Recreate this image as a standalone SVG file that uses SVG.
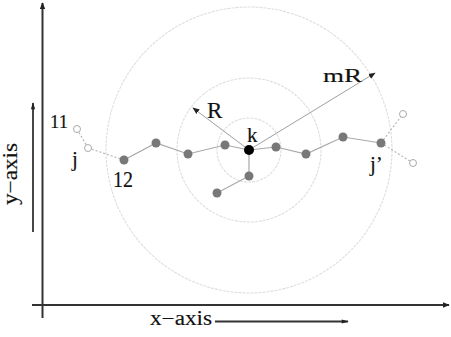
<svg xmlns="http://www.w3.org/2000/svg" width="451" height="337" viewBox="0 0 451 337">
<style>
.ax{stroke:#333;stroke-width:2;fill:none}
.lab{font-family:"Liberation Serif",serif;fill:#111;stroke:#111;stroke-width:0.15}
.ring{fill:none;stroke:#dedede;stroke-width:1.1;stroke-dasharray:3 1}
.ln{stroke:#a8a8a8;stroke-width:1.2;fill:none}
.dl{stroke:#b8b8b8;stroke-width:1.2;fill:none;stroke-dasharray:2 2}
.n{fill:#787878}
.h{fill:#fff;stroke:#aaa;stroke-width:1}
.rad{stroke:#a0a0a0;stroke-width:1;fill:none}
</style>
<defs>
<marker id="ah" viewBox="0 0 10 10" refX="9" refY="5" markerWidth="7" markerHeight="7" orient="auto" markerUnits="userSpaceOnUse">
<path d="M0,1 L10,5 L0,9 z" fill="#222"/>
</marker>
<marker id="ah2" viewBox="0 0 10 10" refX="9" refY="5" markerWidth="9" markerHeight="7" orient="auto" markerUnits="userSpaceOnUse">
<path d="M0,2 L10,5 L0,8 z" fill="#222"/>
</marker>
</defs>
<rect width="451" height="337" fill="#fff"/>
<g id="rings">
<circle class="ring" cx="249" cy="150" r="32"/>
<circle class="ring" cx="249" cy="150" r="72"/>
<circle class="ring" cx="249" cy="150" r="143"/>
</g>
<g id="axes">
<line class="ax" x1="42.5" y1="318" x2="42.5" y2="3" marker-end="url(#ah)"/>
<line class="ax" x1="32" y1="305" x2="449" y2="305" marker-end="url(#ah)"/>
<line x1="33" y1="232" x2="33" y2="103" stroke="#333" stroke-width="1.8" marker-end="url(#ah2)"/>
<line x1="215" y1="321.5" x2="348" y2="321.5" stroke="#333" stroke-width="1.8" marker-end="url(#ah2)"/>
</g>
<g id="connectors">
<line class="dl" x1="77" y1="129" x2="88" y2="148"/>
<line class="dl" x1="88" y1="148" x2="124" y2="160"/>
<polyline class="ln" points="124,160 156,143 188,154 225,145 249,150 276,147 306,154 343,137 381,143"/>
<polyline class="ln" points="249,150 249,176 217,193"/>
<line class="dl" x1="381" y1="143" x2="403" y2="114"/>
<line class="dl" x1="381" y1="143" x2="413" y2="163"/>
<line class="rad" x1="249" y1="150" x2="193" y2="108" marker-end="url(#ah)"/>
<line class="rad" x1="249" y1="150" x2="375" y2="73" marker-end="url(#ah)"/>
</g>
<g id="n11"><circle class="h" cx="77" cy="129" r="3.5"/><text class="lab" x="50" y="128" font-size="19" textLength="18" lengthAdjust="spacingAndGlyphs">11</text></g>
<g id="nj"><circle class="h" cx="88" cy="148" r="3.5"/><text class="lab" x="72" y="166" font-size="21">j</text></g>
<g id="n12"><circle class="n" cx="124" cy="160" r="4.5"/><text class="lab" x="113" y="187" font-size="23" textLength="20" lengthAdjust="spacingAndGlyphs">12</text></g>
<g id="a1"><circle class="n" cx="156" cy="143" r="4.5"/></g>
<g id="a2"><circle class="n" cx="188" cy="154" r="4.5"/></g>
<g id="a3"><circle class="n" cx="225" cy="145" r="4.5"/></g>
<g id="nk"><circle fill="#000" cx="249" cy="150" r="5"/><text class="lab" x="247" y="142" font-size="21">k</text></g>
<g id="a4"><circle class="n" cx="276" cy="147" r="4.5"/></g>
<g id="a5"><circle class="n" cx="306" cy="154" r="4.5"/></g>
<g id="a6"><circle class="n" cx="343" cy="137" r="4.5"/></g>
<g id="njp"><circle class="n" cx="381" cy="143" r="4.5"/><text class="lab" x="370" y="171" font-size="21">j’</text></g>
<g id="h1"><circle class="h" cx="403" cy="114" r="3.5"/></g>
<g id="h2"><circle class="h" cx="413" cy="163" r="3.5"/></g>
<g id="b1"><circle class="n" cx="249" cy="176" r="4.5"/></g>
<g id="b2"><circle class="n" cx="217" cy="193" r="4.5"/></g>
<g id="labels">
<text class="lab" x="207" y="118" font-size="23">R</text>
<text class="lab" x="323" y="82" font-size="18" textLength="39" lengthAdjust="spacingAndGlyphs">mR</text>
<text class="lab" x="150" y="325" font-size="20" textLength="62" lengthAdjust="spacingAndGlyphs">x−axis</text>
<text class="lab" transform="translate(17,205) rotate(-90)" font-size="20" textLength="62" lengthAdjust="spacingAndGlyphs">y−axis</text>
</g>
</svg>
